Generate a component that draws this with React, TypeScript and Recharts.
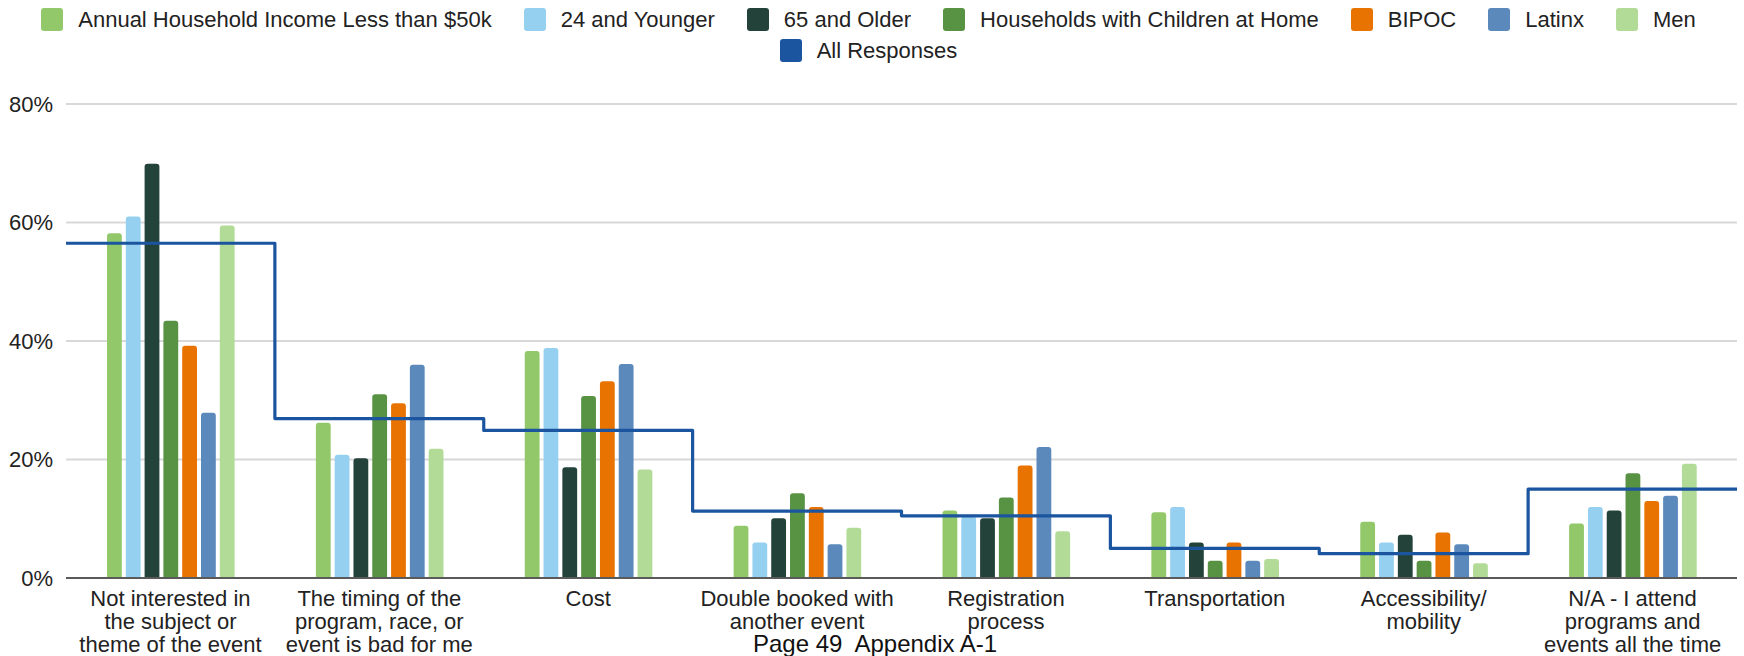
import React from "react";
import { ComposedChart, Bar, Line, XAxis, YAxis, CartesianGrid, Legend } from "recharts";

const categories = [
  "Not interested in the subject or theme of the event",
  "The timing of the program, race, or event is bad for me",
  "Cost",
  "Double booked with another event",
  "Registration process",
  "Transportation",
  "Accessibility/ mobility",
  "N/A - I attend programs and events all the time",
];

const categoryLines = [
  ["Not interested in", "the subject or", "theme of the event"],
  ["The timing of the", "program, race, or", "event is bad for me"],
  ["Cost"],
  ["Double booked with", "another event"],
  ["Registration", "process"],
  ["Transportation"],
  ["Accessibility/", "mobility"],
  ["N/A - I attend", "programs and", "events all the time"],
];

const seriesNames = [
  "Annual Household Income Less than $50k",
  "24 and Younger",
  "65 and Older",
  "Households with Children at Home",
  "BIPOC",
  "Latinx",
  "Men",
];
const seriesColors = ["#92c86a", "#95d0f1", "#23423a", "#589243", "#e97300", "#5b89bc", "#b2db97"];
const lineName = "All Responses";
const lineColor = "#1b55a0";

const income = [58.2, 26.2, 38.3, 8.8, 11.4, 11.1, 9.5, 9.2];
const younger = [61.0, 20.8, 38.8, 6.0, 10.4, 12.0, 6.0, 12.0];
const older = [69.9, 20.2, 18.7, 10.1, 10.1, 6.0, 7.3, 11.4];
const withChildren = [43.4, 31.0, 30.7, 14.3, 13.6, 2.9, 2.9, 17.7];
const bipoc = [39.2, 29.5, 33.2, 12.0, 19.0, 6.0, 7.7, 13.0];
const latinx = [27.9, 36.0, 36.1, 5.7, 22.1, 2.9, 5.7, 13.9];
const men = [59.5, 21.8, 18.3, 8.5, 7.9, 3.2, 2.5, 19.3];
const allResponses = [56.5, 26.9, 24.9, 11.3, 10.5, 5.0, 4.1, 15.0];

const yTicks = [0, 20, 40, 60, 80];

const seriesValues = [income, younger, older, withChildren, bipoc, latinx, men];

const chartData = categories.map((name, i) => {
  const row: Record<string, string | number> = { name };
  seriesValues.forEach((vals, s) => (row["s" + s] = vals[i]));
  return row;
});

// stepped line spans each whole category band, so it gets one extra end point
const stepData = [
  ...allResponses.map((v, i) => ({ pos: i, all: v })),
  { pos: categories.length, all: allResponses[allResponses.length - 1] },
];

const FONT = "'Liberation Sans', Arial, sans-serif";

function CategoryTick(props: any) {
  const { x, y, payload } = props;
  const idx = categories.indexOf(payload.value);
  const lines = categoryLines[idx] ?? [payload.value];
  return (
    <text x={x} y={y} textAnchor="middle" fill="#222" fontSize={22} fontFamily={FONT}>
      {lines.map((l, i) => (
        <tspan key={i} x={x} y={y + 28 + i * 23}>
          {l}
        </tspan>
      ))}
    </text>
  );
}

function LegendBox() {
  const items = [
    ...seriesNames.map((n, i) => ({ n, c: seriesColors[i] })),
    { n: lineName, c: lineColor },
  ];
  return (
    <div
      style={{
        height: 104,
        boxSizing: "border-box",
        paddingTop: 8,
        display: "flex",
        flexWrap: "wrap",
        justifyContent: "center",
        rowGap: 8,
        columnGap: 32,
        fontFamily: FONT,
        fontSize: 22,
        color: "#222",
        alignContent: "flex-start",
      }}
    >
      {items.map((it) => (
        <div key={it.n} style={{ display: "flex", alignItems: "center", height: 23 }}>
          <span
            style={{ width: 22, height: 23, background: it.c, borderRadius: 3, marginRight: 15, display: "inline-block" }}
          />
          <span style={{ whiteSpace: "nowrap", lineHeight: "23px" }}>{it.n}</span>
        </div>
      ))}
    </div>
  );
}

export default function App() {
  return (
    <div style={{ position: "relative", width: 1744, height: 656, background: "#fff" }}>
      <style>{`body{margin:0}`}</style>
      <ComposedChart
        width={1744}
        height={656}
        data={chartData}
        margin={{ top: 0, right: 7, bottom: 0, left: 0 }}
        barSize={14.8}
        barGap={4}
      >
        <CartesianGrid vertical={false} stroke="#d8d8d8" strokeWidth={2} />
        <XAxis
          dataKey="name"
          interval={0}
          height={78}
          tickLine={false}
          tickSize={0}
          tickMargin={0}
          axisLine={{ stroke: "#5a5a5a", strokeWidth: 2 }}
          tick={<CategoryTick />}
        />
        <XAxis xAxisId="step" dataKey="pos" type="number" domain={[0, categories.length]} hide />
        <YAxis
          domain={[0, 80]}
          ticks={yTicks}
          width={66}
          tickLine={false}
          axisLine={false}
          tickSize={0}
          tickMargin={13}
          tickFormatter={(v) => `${v}%`}
          tick={{ fill: "#222", fontSize: 22, fontFamily: FONT }}
        />
        <Legend verticalAlign="top" content={() => <LegendBox />} />
        {seriesNames.map((n, i) => (
          <Bar
            key={n}
            dataKey={"s" + i}
            name={n}
            fill={seriesColors[i]}
            radius={[3, 3, 0, 0]}
            isAnimationActive={false}
          />
        ))}
        <Line
          xAxisId="step"
          data={stepData}
          dataKey="all"
          name={lineName}
          type="stepAfter"
          stroke={lineColor}
          strokeWidth={3.2}
          strokeLinejoin="round"
          dot={false}
          activeDot={false}
          isAnimationActive={false}
        />
      </ComposedChart>
      <div
        style={{
          position: "absolute",
          left: 753,
          top: 632,
          fontFamily: FONT,
          fontSize: 24,
          lineHeight: "24px",
          color: "#111",
          whiteSpace: "pre",
        }}
      >
        {"Page 49  Appendix A-1"}
      </div>
    </div>
  );
}
